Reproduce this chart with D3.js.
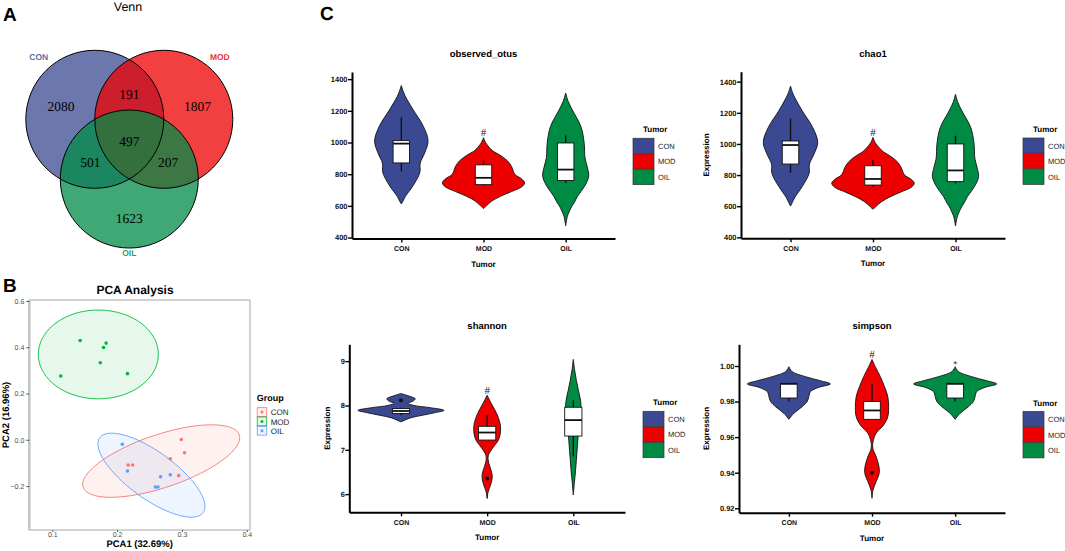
<!DOCTYPE html>
<html>
<head>
<meta charset="utf-8">
<script src="https://cdn.jsdelivr.net/npm/d3@7"></script>
<style>
  body { margin: 0; background: #fff; }
  svg { display: block; font-family: "Liberation Sans", Arial, sans-serif; text-rendering: geometricPrecision; }
</style>
</head>
<body>
<div id="fig"></div>
<script>
// ---------------- data ----------------
const groups = ["CON", "MOD", "OIL"];
const groupColors = ["#3B4992", "#EE0000", "#008B45"];

// Venn (A)
const vennOnly = [2080, 1807, 1623];   // CON, MOD, OIL only
const vennPairs = [191, 501, 207];     // CON&MOD, CON&OIL, MOD&OIL
const vennAll = 497;

// PCA (B)
const pcaColors = ["#F8766D", "#00BA38", "#619CFF"];
const pc1CON = [0.299, 0.304, 0.282, 0.217, 0.224, 0.295];
const pc2CON = [0.001, -0.056, -0.082, -0.109, -0.109, -0.155];
const pc1MOD = [0.143, 0.179, 0.183, 0.174, 0.113, 0.216];
const pc2MOD = [0.429, 0.399, 0.418, 0.333, 0.276, 0.286];
const pc1OIL = [0.208, 0.216, 0.267, 0.282, 0.259, 0.263];
const pc2OIL = [-0.019, -0.135, -0.160, -0.151, -0.204, -0.204];
// ellipse centre and two half-axes, in PCA units
const ellCenter = [[0.268, -0.092], [0.171, 0.369], [0.253, -0.153]];
const ellAxisA = [[0.1204, 0.1132], [0.0926, 0.0], [0.0798, -0.162]];
const ellAxisB = [[0.0130, -0.1084], [0.0, 0.192], [-0.0213, -0.0821]];
const pcaXTicks = [0.1, 0.2, 0.3, 0.4];
const pcaYTicks = [-0.2, 0.0, 0.2, 0.4, 0.6];

// Alpha diversity (C): violin outlines [value, relative half width]
const otusViolinCON = [[1360,0],[1320,0.05],[1290,0.1],[1210,0.28],[1100,0.54],[1010,0.65],[935,0.57],[870,0.46],[810,0.45],[725,0.28],[660,0.1],[630,0.04],[612,0]];
const otusViolinMOD = [[1030,0],[1000,0.05],[960,0.17],[944,0.24],[920,0.4],[885,0.58],[850,0.68],[800,0.76],[770,0.93],[745,1.0],[720,0.93],[690,0.68],[660,0.41],[630,0.2],[600,0.07],[583,0]];
const otusViolinOIL = [[1312,0],[1260,0.06],[1206,0.16],[1101,0.37],[996,0.45],[903,0.47],[840,0.53],[787,0.56],[724,0.46],[661,0.29],[617,0.2],[598,0.15],[560,0.08],[533,0.04],[474,0]];

const chaoViolinCON = [[1372,0],[1330,0.05],[1300,0.1],[1215,0.28],[1105,0.54],[1010,0.66],[935,0.57],[870,0.46],[810,0.45],[725,0.28],[655,0.1],[622,0.04],[601,0]];
const chaoViolinMOD = [[1042,0],[1010,0.05],[970,0.17],[952,0.24],[925,0.4],[888,0.58],[850,0.68],[802,0.76],[772,0.93],[748,1.0],[722,0.93],[692,0.68],[660,0.41],[628,0.2],[598,0.07],[580,0]];
const chaoViolinOIL = [[1319,0],[1265,0.06],[1210,0.16],[1105,0.37],[1000,0.45],[905,0.47],[842,0.53],[790,0.56],[726,0.46],[662,0.29],[617,0.2],[597,0.15],[558,0.08],[531,0.04],[473,0]];

const shanViolinCON = [[8.27,0],[8.22,0.16],[8.15,0.33],[8.10,0.28],[8.05,0.16],[8.00,0.3],[7.95,0.68],[7.89,1.0],[7.84,0.8],[7.78,0.5],[7.72,0.22],[7.63,0]];
const shanViolinMOD = [[8.23,0],[8.05,0.093],[7.82,0.22],[7.59,0.3],[7.41,0.31],[7.22,0.26],[7.03,0.12],[6.88,0.03],[6.77,0.023],[6.62,0.063],[6.47,0.11],[6.35,0.116],[6.2,0.077],[6.05,0.023],[5.9,0]];
const shanViolinOIL = [[9.04,0],[8.8,0.03],[8.57,0.07],[8.35,0.116],[8.12,0.167],[7.93,0.18],[7.74,0.16],[7.5,0.13],[7.22,0.105],[6.99,0.088],[6.77,0.07],[6.54,0.053],[6.24,0.023],[5.98,0]];

const simpViolinCON = [[0.9996,0],[0.9968,0.08],[0.994,0.4],[0.9917,0.76],[0.9899,1.0],[0.988,0.72],[0.9856,0.52],[0.9828,0.48],[0.980,0.44],[0.9771,0.32],[0.9734,0.12],[0.970,0]];
const simpViolinMOD = [[1.0037,0],[0.9996,0.08],[0.994,0.2],[0.9884,0.3],[0.9828,0.38],[0.9771,0.4],[0.9715,0.38],[0.9668,0.28],[0.9622,0.1],[0.9574,0.024],[0.9537,0.02],[0.949,0.1],[0.9443,0.16],[0.940,0.175],[0.935,0.1],[0.9303,0.024],[0.9256,0]];
const simpViolinOIL = [[0.9996,0],[0.9968,0.08],[0.994,0.4],[0.9917,0.76],[0.9899,1.0],[0.988,0.72],[0.9856,0.52],[0.9828,0.48],[0.980,0.44],[0.9771,0.32],[0.9734,0.12],[0.970,0]];

// box stats per group: [lower whisker, q1, median, q3, upper whisker]
const otusBox = [[818, 871, 993, 1012, 1159], [726, 734, 777, 859, 891], [745, 760, 829, 997, 1045]];
const chaoBox = [[815, 871, 993, 1019, 1164], [725, 736, 775, 860, 897], [747, 758, 830, 1000, 1053]];
const shanBox = [[7.78, 7.82, 7.875, 7.93, 7.95], [7.22, 7.22, 7.39, 7.53, 7.78], [6.85, 7.31, 7.67, 7.96, 8.12]];
const simpBox = [[0.98, 0.982, 0.99, 0.99, 0.99], [0.97, 0.97, 0.975, 0.98, 0.99], [0.98, 0.982, 0.99, 0.99, 0.99]];

const otusOutliers = [[], [], []];
const chaoOutliers = [[], [], []];
const shanOutliers = [[8.12], [6.35], []];
const simpOutliers = [[], [0.94], []];

const otusMarks = ["", "#", ""];
const chaoMarks = ["", "#", ""];
const shanMarks = ["", "#", ""];
const simpMarks = ["", "#", "*"];

const otusTicks = [400, 600, 800, 1000, 1200, 1400];
const shanTicks = [6, 7, 8, 9];
const simpTicks = [0.92, 0.94, 0.96, 0.98, 1.00];

// ---------------- canvas ----------------
const W = 1065, H = 551;
const svg = d3.select("#fig").append("svg").attr("width", W).attr("height", H);
svg.append("rect").attr("width", W).attr("height", H).attr("fill", "#fff");

[["A", 3, 21], ["B", 3, 292], ["C", 320, 20]].forEach(([t, x, y]) => {
    svg.append("text").attr("x", x).attr("y", y).text(t)
        .attr("font-size", 19).attr("font-weight", "bold").attr("fill", "#000");
});

// ---------------- A: Venn ----------------
const venn = svg.append("g");
venn.append("text").attr("x", 128).attr("y", 11).attr("text-anchor", "middle")
    .attr("font-size", 12.5).text("Venn");

const vr = 69;
const vc = [129.3, 139.2];
const vd = vr / Math.sqrt(3);
const vAngles = [210, 330, 90].map(a => a * Math.PI / 180);
const vCenters = vAngles.map(a => [vc[0] + vd * Math.cos(a), vc[1] + vd * Math.sin(a)]);

venn.selectAll("circle.fill")
    .data(vCenters)
    .join("circle")
    .attr("class", "fill")
    .attr("cx", d => d[0]).attr("cy", d => d[1]).attr("r", vr)
    .attr("fill", (d, i) => groupColors[i])
    .attr("fill-opacity", 0.75);

venn.selectAll("circle.edge")
    .data(vCenters)
    .join("circle")
    .attr("class", "edge")
    .attr("cx", d => d[0]).attr("cy", d => d[1]).attr("r", vr)
    .attr("fill", "none").attr("stroke", "#000").attr("stroke-width", 1);

// region labels
const pairIdx = [[0, 1], [0, 2], [1, 2]];
const onlyKy = [1.65, 1.65, 1.98];
const vennLabels = [];
vennOnly.forEach((v, i) => {
    const c = vCenters[i];
    vennLabels.push([vc[0] + (c[0] - vc[0]) * 1.98, vc[1] + (c[1] - vc[1]) * onlyKy[i], v]);
});
vennPairs.forEach((v, k) => {
    const [a, b] = pairIdx[k];
    const m = [(vCenters[a][0] + vCenters[b][0]) / 2, (vCenters[a][1] + vCenters[b][1]) / 2];
    vennLabels.push([vc[0] + (m[0] - vc[0]) * 2.25, vc[1] + (m[1] - vc[1]) * 2.25, v]);
});
vennLabels.push([vc[0], vc[1] + 2, vennAll]);

venn.selectAll("text.count")
    .data(vennLabels)
    .join("text")
    .attr("class", "count")
    .attr("x", d => d[0]).attr("y", d => d[1] + 5)
    .attr("text-anchor", "middle")
    .attr("font-family", "'Liberation Serif', 'Times New Roman', serif")
    .attr("font-size", 13.5)
    .text(d => d[2]);

// set names
const nameOffsets = [[-56, -62], [56, -62], [0, 74]];
venn.selectAll("text.setname")
    .data(groups)
    .join("text")
    .attr("class", "setname")
    .attr("x", (d, i) => vCenters[i][0] + nameOffsets[i][0])
    .attr("y", (d, i) => vCenters[i][1] + nameOffsets[i][1] + 3)
    .attr("text-anchor", "middle")
    .attr("font-size", 8.5).attr("font-weight", "bold")
    .attr("fill", (d, i) => groupColors[i])
    .attr("fill-opacity", 0.85)
    .text(d => d);

// ---------------- B: PCA ----------------
const pca = svg.append("g");
const px = d3.scaleLinear().domain([0.0645, 0.405]).range([29.3, 250]);
const py = d3.scaleLinear().domain([-0.390, 0.6043]).range([530, 300]);

pca.append("text").attr("x", 135).attr("y", 294).attr("text-anchor", "middle")
    .attr("font-size", 12).attr("font-weight", "bold").text("PCA Analysis");

pca.append("rect").attr("x", px.range()[0]).attr("y", py.range()[1])
    .attr("width", px.range()[1] - px.range()[0]).attr("height", py.range()[0] - py.range()[1])
    .attr("fill", "#fff").attr("stroke", "#a6a6a6").attr("stroke-width", 1);
pca.append("line").attr("x1", px.range()[0]).attr("x2", px.range()[0])
    .attr("y1", py.range()[1]).attr("y2", py.range()[0])
    .attr("stroke", "#c4c4c4").attr("stroke-width", 2.5);

const pcaX = d3.axisBottom(px).tickValues(pcaXTicks).tickSize(2).tickSizeOuter(0).tickFormat(d3.format(".1f"));
const pcaY = d3.axisLeft(py).tickValues(pcaYTicks).tickSize(3).tickSizeOuter(0).tickFormat(d3.format(".1f"));
const pxa = pca.append("g").attr("transform", `translate(0,${py.range()[0]})`).call(pcaX);
const pya = pca.append("g").attr("transform", `translate(${px.range()[0]},0)`).call(pcaY);
[pxa, pya].forEach(a => {
    a.select(".domain").remove();
    a.selectAll(".tick line").attr("stroke", "#555");
    a.selectAll(".tick text").attr("font-size", 7).attr("fill", "#4d4d4d")
        .attr("font-family", "'Liberation Sans', Arial, sans-serif");
});
pxa.selectAll(".tick text").attr("y", 2.5);
pya.selectAll(".tick text").attr("x", -5);

const ellLine = d3.line().x(d => px(d[0])).y(d => py(d[1])).curve(d3.curveLinearClosed);
const ellPts = i => d3.range(0, 120).map(k => {
    const t = k / 120 * 2 * Math.PI;
    return [ellCenter[i][0] + ellAxisA[i][0] * Math.cos(t) + ellAxisB[i][0] * Math.sin(t),
            ellCenter[i][1] + ellAxisA[i][1] * Math.cos(t) + ellAxisB[i][1] * Math.sin(t)];
});
groups.forEach((gname, i) => {
    pca.append("path").attr("d", ellLine(ellPts(i)))
        .attr("fill", pcaColors[i]).attr("fill-opacity", 0.1)
        .attr("stroke", pcaColors[i]).attr("stroke-width", 0.9);
});

const pcaPts = [[pc1CON, pc2CON], [pc1MOD, pc2MOD], [pc1OIL, pc2OIL]];
pcaPts.forEach(([xs, ys], i) => {
    pca.selectAll(null)
        .data(xs.map((v, k) => [v, ys[k]]))
        .join("circle")
        .attr("cx", d => px(d[0])).attr("cy", d => py(d[1])).attr("r", 1.8)
        .attr("fill", pcaColors[i]);
});

pca.append("text").attr("x", (px.range()[0] + px.range()[1]) / 2).attr("y", 547)
    .attr("text-anchor", "middle").attr("font-size", 9.5).attr("font-weight", "bold")
    .text("PCA1 (32.69%)");
pca.append("text").attr("transform", `translate(9,${(py.range()[0] + py.range()[1]) / 2}) rotate(-90)`)
    .attr("text-anchor", "middle").attr("font-size", 9.5).attr("font-weight", "bold")
    .text("PCA2 (16.96%)");

const pleg = pca.append("g").attr("transform", "translate(256.7,401)");
pleg.append("text").attr("x", 0).attr("y", 0).attr("font-size", 9).attr("font-weight", "bold").text("Group");
groups.forEach((gname, i) => {
    const ky = 6.7 + i * 9.3;
    pleg.append("rect").attr("x", 0.5).attr("y", ky).attr("width", 9.5).attr("height", 8.8)
        .attr("fill", pcaColors[i]).attr("fill-opacity", 0.1)
        .attr("stroke", pcaColors[i]).attr("stroke-width", 0.8);
    pleg.append("circle").attr("cx", 5.25).attr("cy", ky + 4.4).attr("r", 1.5).attr("fill", pcaColors[i]);
    pleg.append("text").attr("x", 14).attr("y", ky + 7.6).attr("font-size", 8).attr("fill", "#222").text(gname);
});

// ---------------- C: violins ----------------
const panels = [
    { name: "observed_otus", left: 352, right: 615, top: 72, bottom: 238.5, domain: [394, 1445],
      ticks: otusTicks, fmt: d3.format("d"), violins: [otusViolinCON, otusViolinMOD, otusViolinOIL],
      box: otusBox, outliers: otusOutliers, marks: otusMarks, ylab: null },
    { name: "chao1", left: 741, right: 1005, top: 71.7, bottom: 238.3, domain: [394, 1464],
      ticks: otusTicks, fmt: d3.format("d"), violins: [chaoViolinCON, chaoViolinMOD, chaoViolinOIL],
      box: chaoBox, outliers: chaoOutliers, marks: chaoMarks, ylab: 35 },
    { name: "shannon", left: 349.3, right: 625, top: 344.3, bottom: 512.3, domain: [5.59, 9.38],
      ticks: shanTicks, fmt: d3.format("d"), violins: [shanViolinCON, shanViolinMOD, shanViolinOIL],
      box: shanBox, outliers: shanOutliers, marks: shanMarks, ylab: 22 },
    { name: "simpson", left: 739, right: 1005, top: 344.3, bottom: 512.7, domain: [0.9175, 1.0122],
      ticks: simpTicks, fmt: d3.format(".2f"), violins: [simpViolinCON, simpViolinMOD, simpViolinOIL],
      box: simpBox, outliers: simpOutliers, marks: simpMarks, ylab: 33 }
];

function violinPanel(cfg) {
    const g = svg.append("g");
    const x = d3.scalePoint().domain(groups).range([cfg.left, cfg.right]).padding(0.6);
    const y = d3.scaleLinear().domain(cfg.domain).range([cfg.bottom, cfg.top]);
    const w = d3.scaleLinear().domain([0, 1]).range([0, x.step() * 0.5]);
    const bw = x.step() * 0.2;

    g.append("text").attr("x", (cfg.left + cfg.right) / 2).attr("y", cfg.top - 15)
        .attr("text-anchor", "middle").attr("font-size", 9.5).attr("font-weight", "bold")
        .text(cfg.name);

    groups.forEach((gname, i) => {
        const cx = x(gname);
        const area = d3.area()
            .curve(d3.curveCatmullRom.alpha(0.5))
            .y(d => y(d[0]))
            .x0(d => cx - w(d[1]))
            .x1(d => cx + w(d[1]));
        g.append("path").attr("d", area(cfg.violins[i]))
            .attr("fill", groupColors[i]).attr("stroke", "#111").attr("stroke-width", 0.9);

        const [lo, q1, med, q3, hi] = cfg.box[i];
        g.append("line").attr("x1", cx).attr("x2", cx).attr("y1", y(hi)).attr("y2", y(lo))
            .attr("stroke", "#111").attr("stroke-width", 1.4);
        g.append("rect").attr("x", cx - bw / 2).attr("y", y(q3))
            .attr("width", bw).attr("height", Math.max(0.5, y(q1) - y(q3)))
            .attr("fill", "#fff").attr("stroke", "#111").attr("stroke-width", 0.9);
        g.append("line").attr("x1", cx - bw / 2).attr("x2", cx + bw / 2).attr("y1", y(med)).attr("y2", y(med))
            .attr("stroke", "#111").attr("stroke-width", 1.8);

        g.selectAll(null).data(cfg.outliers[i]).join("circle")
            .attr("cx", cx).attr("cy", d => y(d)).attr("r", 2).attr("fill", "#111");

        if (cfg.marks[i]) {
            const topV = d3.max(cfg.violins[i], d => d[0]);
            g.append("text").attr("x", cx).attr("y", y(topV) - (cfg.marks[i] === "*" ? 0 : 1.5))
                .attr("text-anchor", "middle")
                .attr("font-family", "'Liberation Serif', 'Times New Roman', serif")
                .attr("font-size", cfg.marks[i] === "*" ? 9 : 11)
                .attr("fill", "#222")
                .text(cfg.marks[i]);
        }
    });

    const yAxis = d3.axisLeft(y).tickValues(cfg.ticks).tickSize(4).tickSizeOuter(0).tickFormat(cfg.fmt);
    const xAxis = d3.axisBottom(x).tickSize(4).tickSizeOuter(0);
    const ya = g.append("g").attr("transform", `translate(${cfg.left},0)`).call(yAxis);
    const xa = g.append("g").attr("transform", `translate(0,${cfg.bottom})`).call(xAxis);
    [ya, xa].forEach(a => {
        a.select(".domain").attr("stroke", "#000").attr("stroke-width", 2);
        a.selectAll(".tick line").attr("stroke", "#000").attr("stroke-width", 1.4);
        a.selectAll(".tick text").attr("font-size", 7.5).attr("font-weight", "bold").attr("fill", "#111")
            .attr("font-family", "'Liberation Sans', Arial, sans-serif");
    });
    ya.selectAll(".tick text").attr("x", -4.5);
    xa.selectAll(".tick text").attr("y", 7.5).attr("font-size", 7);

    g.append("text").attr("x", (cfg.left + cfg.right) / 2).attr("y", cfg.bottom + 28)
        .attr("text-anchor", "middle").attr("font-size", 8).attr("font-weight", "bold").text("Tumor");

    if (cfg.ylab) {
        g.append("text")
            .attr("transform", `translate(${cfg.left - cfg.ylab + 3},${(cfg.top + cfg.bottom) / 2}) rotate(-90)`)
            .attr("text-anchor", "middle").attr("font-size", 8).attr("font-weight", "bold")
            .text("Expression");
    }

    // legend
    const keyTop = (cfg.top + cfg.bottom) / 2 - 17;
    const lg = g.append("g").attr("transform", `translate(${cfg.right + 18},${keyTop})`);
    lg.append("text").attr("x", 10).attr("y", -6).attr("font-size", 8).attr("font-weight", "bold").text("Tumor");
    groups.forEach((gname, i) => {
        lg.append("rect").attr("x", 0).attr("y", i * 15.6).attr("width", 21).attr("height", 15.2)
            .attr("fill", groupColors[i]).attr("stroke", "#333").attr("stroke-width", 0.7);
        lg.append("text").attr("x", 25).attr("y", i * 15.6 + 10.5).attr("font-size", 7.5).attr("fill", "#222")
            .text(gname);
    });
}

panels.forEach(violinPanel);
</script>
</body>
</html>
